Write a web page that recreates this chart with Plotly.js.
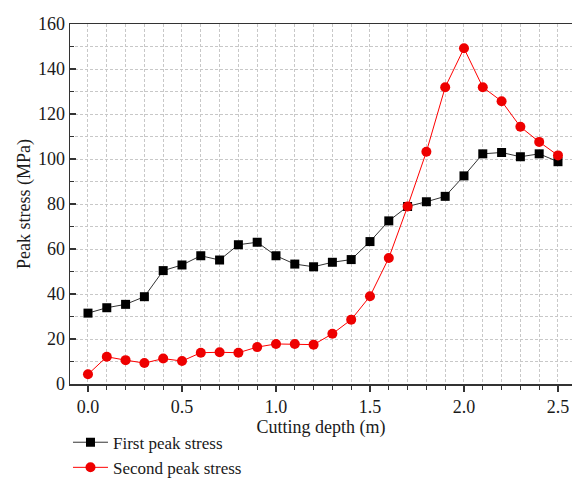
<!DOCTYPE html>
<html>
<head>
<meta charset="utf-8">
<script src="https://cdn.plot.ly/plotly-3.0.1.min.js"></script>
<style>html,body{margin:0;padding:0;background:#fff;}#chart{width:572px;height:478px;}</style>
</head>
<body>
<div id="chart"></div>
<script>
const depth = [0.0,0.1,0.2,0.3,0.4,0.5,0.6,0.7,0.8,0.9,1.0,1.1,1.2,1.3,1.4,1.5,1.6,1.7,1.8,1.9,2.0,2.1,2.2,2.3,2.4,2.5];
const firstPeak = [31.5,33.9,35.4,38.8,50.4,52.9,57.0,55.1,61.9,63.0,57.0,53.3,52.1,54.1,55.3,63.3,72.5,78.9,81.0,83.4,92.5,102.3,102.9,101.0,102.3,98.8];
const secondPeak = [4.3,12.1,10.6,9.3,11.3,10.2,13.9,14.1,13.9,16.4,17.8,17.8,17.5,22.3,28.6,39.0,56.0,78.9,103.2,131.9,149.2,131.9,125.7,114.3,107.6,101.6];
const seriesNames = ["First peak stress","Second peak stress"];

const font = "Liberation Serif";
const gridCol = "#c8c8c8";
const axisCol = "#333333";
const txtCol = "#1a1a1a";
const fs = 18;

const traces = [
  {x: depth, y: firstPeak, name: seriesNames[0], type: "scatter", mode: "lines+markers",
   line: {color: "#333333", width: 1}, marker: {symbol: "square", size: 9, color: "#000000"}},
  {x: depth, y: secondPeak, name: seriesNames[1], type: "scatter", mode: "lines+markers",
   line: {color: "#ff0000", width: 1}, marker: {symbol: "circle", size: 10, color: "#ee0000"}}
];

const layout = {
  width: 572, height: 478,
  margin: {l: 70, r: 0, t: 24, b: 94, autoexpand: false},
  paper_bgcolor: "#fff", plot_bgcolor: "#fff",
  font: {family: font, size: fs, color: txtCol},
  showlegend: true,
  legend: {x: -0.004, xanchor: "left", y: -0.113, yanchor: "top", orientation: "v",
           font: {family: font, size: 17, color: txtCol}, bgcolor: "rgba(0,0,0,0)",
           tracegroupgap: 0, itemwidth: 35},
  xaxis: {
    range: [-0.0957, 2.5745], tickvals: [0,0.5,1.0,1.5,2.0,2.5], ticktext: ["0.0","0.5","1.0","1.5","2.0","2.5"],
    showline: true, linecolor: axisCol, linewidth: 1.5, mirror: true,
    ticks: "outside", ticklen: 6, tickcolor: axisCol, tickwidth: 1.2,
    showgrid: true, gridcolor: gridCol, griddash: "3px,2px", gridwidth: 1,
    zeroline: false,
    minor: {dtick: 0.1, tick0: 0, ticks: "outside", ticklen: 4, tickcolor: axisCol, showgrid: true, gridcolor: gridCol, griddash: "3px,2px", gridwidth: 1},
    title: {text: "Cutting depth (m)", font: {family: font, size: fs, color: txtCol}, standoff: 3},
    tickfont: {family: font, size: fs, color: txtCol}
  },
  yaxis: {
    range: [0, 160], dtick: 20, tick0: 0,
    showline: true, linecolor: axisCol, linewidth: 1.5,
    ticks: "inside", ticklen: 6, tickcolor: axisCol, tickwidth: 1.2,
    showgrid: true, gridcolor: gridCol, griddash: "3px,2px", gridwidth: 1,
    zeroline: false,
    minor: {dtick: 10, tick0: 0, ticks: "inside", ticklen: 4, tickcolor: axisCol, showgrid: true, gridcolor: gridCol, griddash: "3px,2px", gridwidth: 1},
    title: {text: "Peak stress (MPa)", font: {family: font, size: fs, color: txtCol}, standoff: 2},
    tickfont: {family: font, size: fs, color: txtCol}
  }
};

Plotly.newPlot("chart", traces, layout, {displayModeBar: false, staticPlot: true});
</script>
</body>
</html>
